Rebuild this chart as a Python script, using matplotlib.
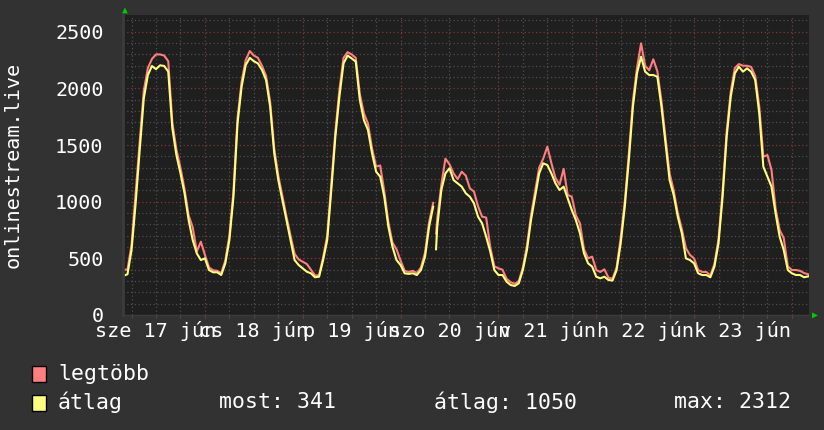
import numpy as np
import matplotlib
matplotlib.use("Agg")
import matplotlib.pyplot as plt
import matplotlib.transforms as mtransforms

# Data: hourly samples, hours counted from 17 Jun 00:00
hours = np.arange(4, 173)

avg_vals = [
    345, 360, 574, 986, 1456, 1912, 2118, 2198, 2170, 2204, 2198, 2148,
    1650, 1412, 1250, 1074, 838, 662, 544, 485, 500, 397, 377, 377,
    353, 456, 662, 1044, 1692, 2015, 2206, 2270, 2240, 2221, 2162, 2074,
    1839, 1427, 1191, 1015, 838, 662, 485, 441, 412, 382, 368, 333,
    338, 485, 662, 1103, 1574, 1930, 2220, 2290, 2265, 2236, 1898, 1721,
    1633, 1427, 1265, 1221, 1044, 780, 603, 485, 441, 368, 363, 368,
    353, 397, 515, 780, 956, 780, 1103, 1250, 1295, 1191, 1162, 1133,
    1074, 1044, 986, 868, 809, 691, 559, 397, 353, 353, 294, 265,
    256, 280, 397, 574, 838, 1044, 1250, 1339, 1324, 1250, 1162, 1103,
    1133, 1030, 927, 838, 721, 544, 456, 427, 338, 324, 338, 309,
    304, 397, 633, 956, 1368, 1839, 2133, 2280, 2148, 2118, 2118, 2103,
    1839, 1515, 1191, 1060, 868, 721, 500, 485, 456, 368, 353, 353,
    333, 427, 633, 1044, 1574, 1927, 2133, 2192, 2148, 2177, 2148, 2074,
    1780, 1309, 1221, 1133, 897, 691, 574, 397, 368, 353, 353, 333,
    341,
]

max_vals = [
    400, 400, 620, 1080, 1530, 1980, 2180, 2260, 2300, 2300, 2290, 2240,
    1700, 1460, 1300, 1110, 880, 775, 560, 647, 530, 420, 395, 390,
    370, 480, 700, 1090, 1740, 2060, 2250, 2330, 2290, 2270, 2200, 2110,
    1880, 1470, 1230, 1050, 870, 700, 540, 490, 470, 450, 400, 350,
    350, 510, 700, 1150, 1620, 1990, 2270, 2320, 2300, 2270, 1950, 1780,
    1690, 1470, 1310, 1320, 1090, 820, 640, 580, 480, 390, 380, 390,
    370, 420, 550, 820, 990, 850, 1150, 1380, 1330, 1250, 1200, 1265,
    1230, 1118, 1090, 960, 868, 860, 600, 430, 412, 400, 320, 290,
    275, 300, 420, 610, 880, 1090, 1300, 1380, 1486, 1340, 1210, 1150,
    1290, 1060, 1044, 880, 809, 580, 500, 515, 397, 380, 403, 330,
    320, 420, 680, 1000, 1420, 1890, 2180, 2398, 2200, 2160, 2257, 2150,
    1890, 1560, 1250, 1100, 900, 760, 589, 530, 500, 397, 380, 380,
    350, 450, 670, 1090, 1620, 1970, 2180, 2215, 2200, 2200, 2190, 2110,
    1840, 1397, 1412, 1280, 940, 750, 680, 430, 397, 397, 390, 370,
    360,
]

# short outage on 20 Jun around 08:30
gap_hours = [80.4, 80.7]
gap_avg = [np.nan, 580]
gap_max = [np.nan, 720]

day_labels = ["sze 17 jún", "cs 18 jún", "p 19 jún", "szo 20 jún",
              "v 21 jún", "h 22 jún", "k 23 jún"]
legend_names = ["legtöbb", "átlag"]
stat_now, stat_avg, stat_max = 341, 1050, 2312

# merge gap samples in
t = np.concatenate([hours, gap_hours])
order = np.argsort(t)
t = t[order]
avg = np.concatenate([avg_vals, gap_avg])[order]
mx = np.concatenate([max_vals, gap_max])[order]

# Styling
BG = "#323232"
CANVAS = "#1f1f1f"
RED = "#ff7f7f"
YELLOW = "#ffff7f"
FONT = "DejaVu Sans Mono"
FS = 14.5
FS_LEG = 15.5

plt.rcParams["font.family"] = FONT

W, H = 824, 430
fig = plt.figure(figsize=(W / 100, H / 100), dpi=100, facecolor=BG)
x0, x1, ytop, ybot = 123, 809, 15, 315
ax = fig.add_axes([x0 / W, 1 - ybot / H, (x1 - x0) / W, (ybot - ytop) / H])
ax.set_facecolor(CANVAS)

ax.set_xlim(3.9, 172.2)
ax.set_ylim(0, 2648)

# grid
ax.set_xticks(np.arange(24, 172, 24))
ax.set_xticks(np.arange(6, 173, 6), minor=True)
ax.set_yticks(np.arange(0, 2600, 500))
ax.set_yticks(np.arange(0, 2700, 100), minor=True)
ax.grid(which="minor", color="#4e4e4e", linestyle=(0, (1, 2)), linewidth=0.9)
ax.grid(which="major", color="#7a3a3a", linestyle=(0, (1, 2)), linewidth=0.9)
ax.set_axisbelow(True)

ax.plot(t, mx, color=RED, lw=1.5)
ax.plot(t, avg, color=YELLOW, lw=1.5)

for s in ["top", "right"]:
    ax.spines[s].set_visible(False)
ax.spines["left"].set_color("#3c3c3c")
ax.spines["bottom"].set_color("#3c3c3c")
ax.spines["left"].set_linewidth(2)
ax.spines["bottom"].set_linewidth(1)

ax.tick_params(axis="x", which="both", labelbottom=False, length=2,
               color="#7a3a3a", direction="out")
ax.tick_params(axis="x", which="minor", color="#555555")
ax.tick_params(axis="y", which="both", length=0, labelsize=FS,
               labelcolor="white", pad=14)
ax.set_yticklabels([str(v) for v in range(0, 2600, 500)])

# day labels centered on noon
trans = mtransforms.blended_transform_factory(ax.transData, fig.transFigure)
for i, lab in enumerate(day_labels):
    ax.text(12 + 24 * i, 1 - 331 / H, lab, transform=trans, ha="center",
            va="center", color="white", fontsize=FS, clip_on=False)

# axis arrows
fig.text(125 / W, 1 - 10 / H, "▲", color="#00cc00", fontsize=7,
         ha="center", va="center")
fig.text(815 / W, 1 - 315 / H, "▶", color="#00cc00", fontsize=7,
         ha="center", va="center")

fig.text(13 / W, 1 - 165 / H, "onlinestream.live", rotation=90, color="white",
         fontsize=FS, ha="center", va="center")

# legend
for i, (name, col) in enumerate(zip(legend_names, [RED, YELLOW])):
    yc = 374 + 28.5 * i
    fig.patches.append(plt.Rectangle((32 / W, 1 - (yc + 8) / H), 14 / W, 16 / H,
                                     transform=fig.transFigure, facecolor=col,
                                     edgecolor="black", lw=1))
    fig.text(58 / W, 1 - yc / H, name, color="white", fontsize=FS_LEG,
             ha="left", va="center")

yc = 374 + 28.5
fig.text(219 / W, 1 - yc / H, f"most: {stat_now}", color="white",
         fontsize=FS_LEG, va="center")
fig.text(434 / W, 1 - yc / H, f"átlag: {stat_avg}", color="white",
         fontsize=FS_LEG, va="center")
fig.text(674 / W, 1 - yc / H, f"max: {stat_max}", color="white",
         fontsize=FS_LEG, va="center")

fig.savefig("out.png", dpi=100, facecolor=BG)
